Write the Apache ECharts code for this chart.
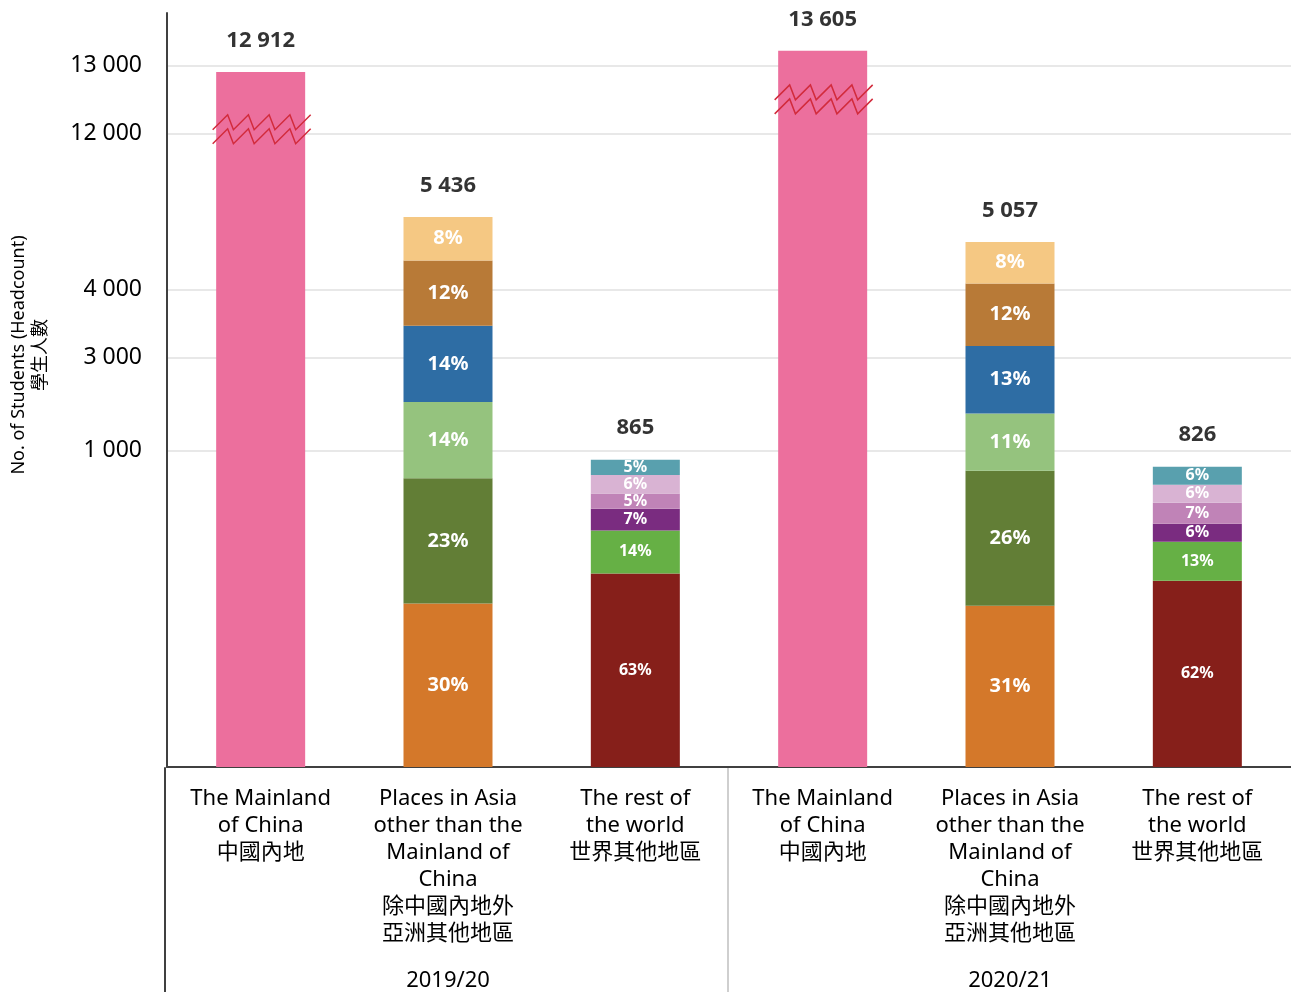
<!DOCTYPE html>
<html><head><meta charset="utf-8">
<script src="https://cdn.jsdelivr.net/npm/echarts@6/dist/echarts.min.js"></script>
<style>html,body{margin:0;padding:0;background:#fff}#chart{width:1291px;height:992px}</style>
</head><body><div id="chart"></div>
<script>
// ---------- data ----------
const years = ['2019/20', '2020/21'];
const regionLabels = [
  'The Mainland\nof China\n中國內地',
  'Places in Asia\nother than the\nMainland of\nChina\n除中國內地外\n亞洲其他地區',
  'The rest of\nthe world\n世界其他地區'
];
const categories = [...regionLabels, ...regionLabels];
const totals = [12912, 5436, 865, 13605, 5057, 826];
const mainlandShare = [100];
const asiaShare1920 = [30, 23, 14, 14, 12, 8];
const worldShare1920 = [63, 14, 7, 5, 6, 5];
const asiaShare2021 = [31, 26, 11, 13, 12, 8];
const worldShare2021 = [62, 13, 6, 7, 6, 6];
const shares = [mainlandShare, asiaShare1920, worldShare1920, mainlandShare, asiaShare2021, worldShare2021];
const yTickValues = [1000, 3000, 4000, 12000, 13000];
const breakMarks = [[0, 12060], [3, 12500]]; // [category index, value where the break symbol sits]

// ---------- broken (piecewise) value scale ----------
const SCALE = [[0, 0], [800, 296], [900, 314], [1000, 317], [3000, 410], [4000, 478], [5000, 522], [5500, 555], [12000, 634], [13000, 702], [14000, 727]];
function toAxis(v) {
  for (let i = 1; i < SCALE.length; i++) {
    const [a0, b0] = SCALE[i - 1], [a1, b1] = SCALE[i];
    if (v <= a1) return b0 + (v - a0) / (a1 - a0) * (b1 - b0);
  }
  return SCALE[SCALE.length - 1][1];
}
const fmt = n => String(n).replace(/\B(?=(\d{3})+(?!\d))/g, ' ');

// ---------- styles ----------
const kinds = ['mainland', 'asia', 'world', 'mainland', 'asia', 'world'];
const palette = {
  mainland: ['#EC6F9D'],
  asia: ['#D4782A', '#627E36', '#95C37E', '#2E6DA4', '#B87A37', '#F5C883'],
  world: ['#861F1A', '#66B045', '#7A2C80', '#C083B7', '#D9B3D3', '#59A0AE']
};
const FONT = "'Noto Sans', 'Noto Sans CJK TC', sans-serif";

const layerCount = 6;
const series = [];
for (let L = 0; L < layerCount; L++) {
  series.push({
    type: 'bar', stack: 'total', barWidth: 89, xAxisIndex: 0, yAxisIndex: 0,
    data: shares.map((sh, j) => {
      if (L >= sh.length) return '-';
      const sum = sh.reduce((a, b) => a + b, 0);
      const k = kinds[j];
      return {
        value: toAxis(totals[j]) * sh[L] / sum,
        itemStyle: { color: palette[k][L] },
        label: {
          show: k !== 'mainland', position: 'inside', formatter: sh[L] + '%',
          color: '#fff', fontWeight: 'bold', fontFamily: FONT,
          fontSize: k === 'asia' ? 20 : 16
        }
      };
    })
  });
}
series.push({
  type: 'scatter', symbolSize: 1, itemStyle: { color: 'transparent' }, xAxisIndex: 0, yAxisIndex: 0,
  data: totals.map((t, i) => [i, toAxis(t)]),
  label: {
    show: true, position: 'top', distance: 20,
    formatter: p => fmt(totals[p.dataIndex]),
    fontSize: 22, fontWeight: 'bold', color: '#000', fontFamily: FONT
  }
});
series.push({
  type: 'custom', xAxisIndex: 0, yAxisIndex: 0, z: 10,
  data: breakMarks.map(([i, v]) => [i, toAxis(v)]),
  renderItem(params, api) {
    const c = api.coord([api.value(0), api.value(1)]);
    const mk = dy => {
      const pts = [];
      for (let k = 0; k < 5; k++) {
        const x0 = c[0] - 48 + k * 20.75;
        pts.push([x0, c[1] + dy]);
        pts.push([x0 + 15, c[1] + dy - 15]);
      }
      return { type: 'polyline', shape: { points: pts }, style: { stroke: '#D22B3C', lineWidth: 1.5, fill: null } };
    };
    return { type: 'group', children: [mk(0), mk(14)] };
  }
});

const chart = echarts.init(document.getElementById('chart'));
chart.setOption({
  animation: false,
  backgroundColor: '#fff',
  grid: [
    { left: 165, right: 0, top: 13, bottom: 224 },
    { left: 165, right: 0, top: 768, bottom: 0 }
  ],
  xAxis: [
    {
      type: 'category', data: categories, position: 'bottom', gridIndex: 0,
      axisLine: { show: true, lineStyle: { color: '#404040', width: 2 } },
      axisTick: { show: false },
      axisLabel: { interval: 0, margin: 18, fontSize: 22, lineHeight: 27, color: '#000', fontFamily: FONT }
    },
    {
      type: 'category', data: years, position: 'bottom', gridIndex: 0,
      axisLine: { show: false },
      axisTick: { show: false },
      axisLabel: { margin: 203, fontSize: 22, color: '#000', fontFamily: FONT }
    },
    {
      type: 'value', gridIndex: 1, min: 0, max: years.length, interval: 1,
      axisLine: { show: false }, axisTick: { show: false }, axisLabel: { show: false },
      splitLine: { show: true, showMinLine: false, showMaxLine: false, lineStyle: { color: '#BFBFBF', width: 1.5 } }
    }
  ],
  yAxis: [
    {
      type: 'value', min: 0, max: 755, gridIndex: 0,
      name: 'No. of Students (Headcount)\n學生人數',
      nameLocation: 'middle', nameRotate: 90, nameGap: 115,
      nameTextStyle: { fontSize: 18, lineHeight: 22, color: '#000', fontFamily: FONT, padding: [0, 0, 0, 70] },
      axisLine: { show: true, lineStyle: { color: '#404040', width: 2 } },
      axisTick: { show: false, customValues: yTickValues.map(toAxis) },
      splitLine: { show: true, lineStyle: { color: '#E0E0E0', width: 1.5 } },
      axisLabel: {
        customValues: yTickValues.map(toAxis), margin: 25, fontSize: 23, color: '#000', fontFamily: FONT,
        formatter: v => {
          const t = yTickValues.find(x => Math.abs(toAxis(x) - v) < 0.01);
          return t === undefined ? '' : fmt(t);
        }
      }
    },
    {
      type: 'value', gridIndex: 1, min: 0, max: 1,
      axisLine: { show: true, lineStyle: { color: '#404040', width: 2 } },
      axisTick: { show: false }, axisLabel: { show: false }, splitLine: { show: false }
    }
  ],
  series
});
</script></body></html>
